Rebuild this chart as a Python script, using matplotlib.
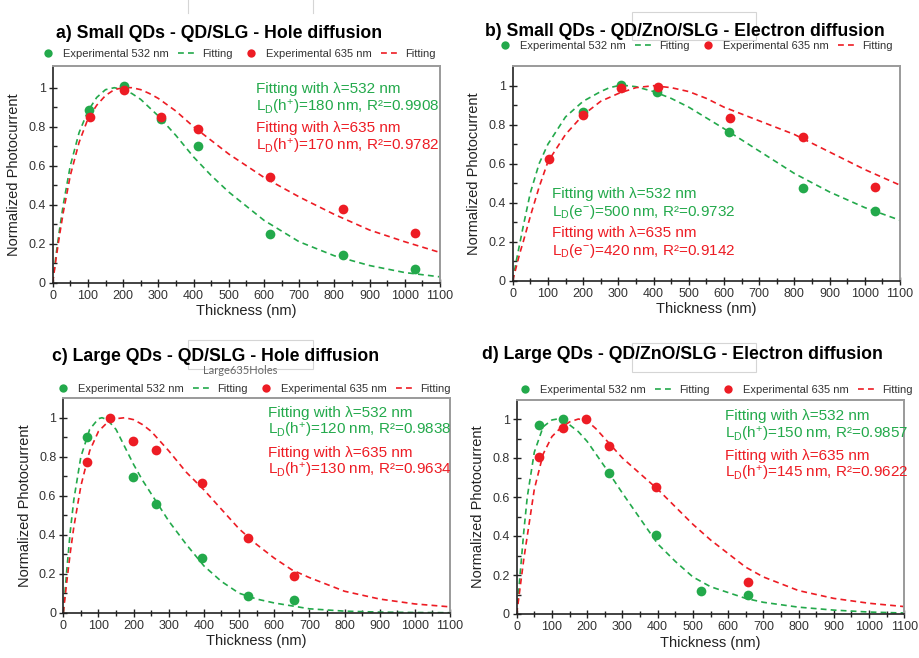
import matplotlib
matplotlib.use("Agg")
import matplotlib.pyplot as plt
from matplotlib.ticker import MultipleLocator
from matplotlib.patches import Rectangle
from matplotlib.lines import Line2D

plt.rcParams['font.family'] = ['Liberation Sans', 'DejaVu Sans']
plt.rcParams['mathtext.fontset'] = 'custom'
plt.rcParams['mathtext.rm'] = 'Liberation Sans'
plt.rcParams['mathtext.it'] = 'Liberation Sans:italic'
plt.rcParams['mathtext.bf'] = 'Liberation Sans:bold'

GREEN = '#23a94b'
RED = '#ed1c24'
TXT = '#333333'

W, H = 919, 658

# ---- panel a: small QDs, QD/SLG, holes
a_x532 = [103, 203, 309, 413, 617, 824, 1030]
a_y532 = [0.885, 1.01, 0.838, 0.70, 0.25, 0.144, 0.068]
a_x635 = [105, 203, 309, 413, 617, 824, 1030]
a_y635 = [0.851, 0.988, 0.850, 0.788, 0.544, 0.378, 0.253]
a_fx532 = [0, 10, 20, 30, 50, 75, 100, 125, 150, 175, 200, 225, 250, 300, 350, 400, 450, 500, 600, 700, 800, 900, 1000, 1100]
a_fy532 = [0, 0.15, 0.28, 0.40, 0.60, 0.77, 0.88, 0.95, 0.99, 1.0, 0.99, 0.97, 0.94, 0.855, 0.755, 0.645, 0.55, 0.465, 0.32, 0.21, 0.138, 0.088, 0.052, 0.03]
a_fx635 = [0, 10, 20, 30, 50, 75, 100, 125, 150, 175, 200, 225, 250, 275, 300, 350, 400, 450, 500, 600, 700, 800, 900, 1000, 1100]
a_fy635 = [0, 0.13, 0.25, 0.36, 0.55, 0.72, 0.84, 0.91, 0.96, 0.99, 1.0, 1.0, 0.99, 0.97, 0.945, 0.88, 0.80, 0.73, 0.66, 0.54, 0.44, 0.35, 0.27, 0.21, 0.155]

# ---- panel b: small QDs, QD/ZnO/SLG, electrons
b_x532 = [199, 309, 411, 615, 824, 1030]
b_y532 = [0.867, 1.003, 0.969, 0.764, 0.477, 0.359]
b_x635 = [103, 201, 309, 413, 617, 824, 1030]
b_y635 = [0.622, 0.850, 0.986, 0.991, 0.832, 0.738, 0.479]
b_fx532 = [0, 10, 20, 30, 50, 75, 100, 150, 200, 250, 275, 300, 325, 350, 400, 450, 500, 600, 700, 800, 900, 1000, 1100]
b_fy532 = [0, 0.10, 0.19, 0.28, 0.45, 0.60, 0.70, 0.84, 0.92, 0.97, 0.99, 1.0, 1.0, 0.995, 0.97, 0.935, 0.89, 0.78, 0.665, 0.55, 0.455, 0.375, 0.31]
b_fx635 = [0, 10, 20, 30, 50, 75, 100, 150, 200, 250, 300, 350, 400, 450, 500, 550, 600, 700, 800, 900, 1000, 1100]
b_fy635 = [0, 0.07, 0.14, 0.20, 0.33, 0.48, 0.61, 0.75, 0.85, 0.92, 0.96, 0.99, 1.0, 0.99, 0.97, 0.935, 0.89, 0.82, 0.75, 0.66, 0.57, 0.49]

# ---- panel c: large QDs, QD/SLG, holes
c_x532 = [66, 197, 264, 395, 524, 656]
c_y532 = [0.901, 0.694, 0.558, 0.281, 0.085, 0.063]
c_x635 = [66, 133, 198, 264, 395, 524, 656]
c_y635 = [0.774, 1.0, 0.881, 0.833, 0.665, 0.383, 0.190]
c_fx532 = [0, 10, 20, 30, 50, 75, 100, 110, 125, 150, 175, 200, 225, 250, 300, 350, 400, 450, 500, 550, 600, 700, 800, 900, 1000, 1100]
c_fy532 = [0, 0.22, 0.42, 0.58, 0.80, 0.94, 0.995, 1.0, 0.99, 0.94, 0.85, 0.76, 0.68, 0.61, 0.47, 0.35, 0.24, 0.16, 0.10, 0.07, 0.05, 0.02, 0.008, 0.003, 0.001, 0.0]
c_fx635 = [0, 10, 20, 30, 50, 75, 100, 125, 150, 175, 200, 225, 250, 300, 350, 400, 450, 500, 550, 600, 650, 700, 800, 900, 1000, 1100]
c_fy635 = [0, 0.16, 0.31, 0.44, 0.65, 0.83, 0.93, 0.975, 0.995, 1.0, 0.99, 0.965, 0.93, 0.83, 0.72, 0.63, 0.53, 0.43, 0.35, 0.28, 0.22, 0.18, 0.11, 0.07, 0.045, 0.03]

# ---- panel d: large QDs, QD/ZnO/SLG, electrons
d_x532 = [63, 131, 262, 394, 524, 656]
d_y532 = [0.969, 1.0, 0.725, 0.405, 0.12, 0.097]
d_x635 = [64, 131, 196, 262, 394, 656]
d_y635 = [0.807, 0.952, 1.0, 0.862, 0.650, 0.166]
d_fx532 = [0, 10, 20, 30, 50, 75, 100, 115, 125, 150, 175, 200, 225, 250, 300, 350, 400, 450, 500, 550, 600, 650, 700, 800, 900, 1000, 1100]
d_fy532 = [0, 0.21, 0.42, 0.60, 0.83, 0.96, 0.995, 1.0, 0.995, 0.97, 0.935, 0.885, 0.82, 0.755, 0.62, 0.49, 0.36, 0.27, 0.19, 0.14, 0.11, 0.08, 0.06, 0.035, 0.02, 0.01, 0.005]
d_fx635 = [0, 10, 20, 30, 50, 75, 100, 125, 150, 175, 200, 225, 250, 275, 300, 350, 400, 450, 500, 550, 600, 650, 700, 800, 900, 1000, 1100]
d_fy635 = [0, 0.14, 0.28, 0.40, 0.64, 0.82, 0.91, 0.955, 0.985, 1.0, 0.99, 0.95, 0.90, 0.85, 0.80, 0.72, 0.64, 0.55, 0.46, 0.38, 0.31, 0.24, 0.19, 0.12, 0.08, 0.055, 0.038]

titles = ["a) Small QDs - QD/SLG - Hole diffusion",
          "b) Small QDs - QD/ZnO/SLG - Electron diffusion",
          "c) Large QDs - QD/SLG - Hole diffusion",
          "d) Large QDs - QD/ZnO/SLG - Electron diffusion"]

notes = [
    ["Fitting with λ=532 nm", r"L$_\mathregular{D}$(h$^\mathregular{+}$)=180 nm, R²=0.9908",
     "Fitting with λ=635 nm", r"L$_\mathregular{D}$(h$^\mathregular{+}$)=170 nm, R²=0.9782"],
    ["Fitting with λ=532 nm", r"L$_\mathregular{D}$(e$^\mathregular{-}$)=500 nm, R²=0.9732",
     "Fitting with λ=635 nm", r"L$_\mathregular{D}$(e$^\mathregular{-}$)=420 nm, R²=0.9142"],
    ["Fitting with λ=532 nm", r"L$_\mathregular{D}$(h$^\mathregular{+}$)=120 nm, R²=0.9838",
     "Fitting with λ=635 nm", r"L$_\mathregular{D}$(h$^\mathregular{+}$)=130 nm, R²=0.9634"],
    ["Fitting with λ=532 nm", r"L$_\mathregular{D}$(h$^\mathregular{+}$)=150 nm, R²=0.9857",
     "Fitting with λ=635 nm", r"L$_\mathregular{D}$(h$^\mathregular{+}$)=145 nm, R²=0.9622"],
]

panels = [
    (a_x532, a_y532, a_x635, a_y635, a_fx532, a_fy532, a_fx635, a_fy635),
    (b_x532, b_y532, b_x635, b_y635, b_fx532, b_fy532, b_fx635, b_fy635),
    (c_x532, c_y532, c_x635, c_y635, c_fx532, c_fy532, c_fx635, c_fy635),
    (d_x532, d_y532, d_x635, d_y635, d_fx532, d_fy532, d_fx635, d_fy635),
]

# pixel layout: left, right, y of zero line, top of frame
boxes = [(52.7, 440, 282.7, 66), (512.7, 900, 280.7, 66),
         (63.3, 450, 612.7, 398.3), (516.7, 904.3, 614, 400)]
title_pos = [(219, 37.5), (685, 36.5), (216, 361), (682, 359)]
legend_pos = [(237, 54.3), (694.5, 45.7), (252.5, 389), (714, 389.7)]
note_pos = [(256, [89, 107, 128, 146]), (551.7, [194, 212, 233, 251]),
            (268, [412.7, 430, 452.7, 470]), (725, [416, 434.3, 456, 473.3])]


def fx(px):
    return px / W


def fy(py):
    return 1 - py / H


fig = plt.figure(figsize=(W / 100, H / 100), dpi=100)

for i, p in enumerate(panels):
    l, r, b0, t = boxes[i]
    ax = fig.add_axes([fx(l), fy(b0), (r - l) / W, (b0 - t) / H])
    ylim_top = (b0 - t) / 195.0
    x532, y532, x635, y635, fx532, fy532, fx635, fy635 = p

    ax.plot(fx532, fy532, color=GREEN, lw=1.2, dashes=(3.5, 2.5), zorder=2)
    ax.plot(fx635, fy635, color=RED, lw=1.2, dashes=(3.5, 2.5), zorder=2)
    ax.plot(x532, y532, 'o', color=GREEN, ms=7, mec='none', zorder=3)
    ax.plot(x635, y635, 'o', color=RED, ms=7, mec='none', zorder=4)

    ax.set_xlim(0, 1100)
    ax.set_ylim(0, ylim_top)
    ax.set_xticks(range(0, 1101, 100))
    ax.xaxis.set_minor_locator(MultipleLocator(50))
    ax.set_yticks([0, 0.2, 0.4, 0.6, 0.8, 1.0])
    ax.set_yticklabels(['0', '0.2', '0.4', '0.6', '0.8', '1'])
    ax.yaxis.set_minor_locator(plt.FixedLocator([0.1, 0.3, 0.5, 0.7, 0.9]))
    ax.tick_params(which='major', direction='inout', length=6, width=1,
                   labelsize=9, labelcolor=TXT, color='#222222', pad=2)
    ax.tick_params(which='minor', direction='in', length=3, width=1, color='#222222')
    ax.tick_params(axis='x', which='minor', direction='inout', length=4)

    for s in ['left', 'bottom']:
        ax.spines[s].set_color('#222222')
        ax.spines[s].set_linewidth(1.2)
    for s in ['top', 'right']:
        ax.spines[s].set_color('#9a9a9a')
        ax.spines[s].set_linewidth(1.4)

    ax.set_xlabel("Thickness (nm)", fontsize=10.5, color='#222222', labelpad=2)
    ax.set_ylabel("Normalized Photocurrent", fontsize=10.5, color='#222222', labelpad=5)

    # title
    tx, ty = title_pos[i]
    fig.text(fx(tx), fy(ty), titles[i], ha='center', va='baseline',
             fontsize=12.7, fontweight='bold', color='black')

    # legend
    handles = [Line2D([], [], ls='none', marker='o', color=GREEN, ms=6, mec='none'),
               Line2D([], [], color=GREEN, lw=1.2, dashes=(3.5, 2.5)),
               Line2D([], [], ls='none', marker='o', color=RED, ms=6, mec='none'),
               Line2D([], [], color=RED, lw=1.2, dashes=(3.5, 2.5))]
    labels = ["Experimental 532 nm", "Fitting", "Experimental 635 nm", "Fitting"]
    lx, ly = legend_pos[i]
    leg = fig.legend(handles, labels, loc='center', bbox_to_anchor=(fx(lx), fy(ly)),
                     ncol=4, frameon=False, fontsize=8, handlelength=1.7,
                     handletextpad=0.5, columnspacing=0.8, borderpad=0, borderaxespad=0)
    for txt in leg.get_texts():
        txt.set_color(TXT)

    # fitting notes
    nx, nys = note_pos[i]
    for k in range(4):
        fig.text(fx(nx), fy(nys[k]), notes[i][k], ha='left', va='center',
                 fontsize=11, color=GREEN if k < 2 else RED)

# faint grey frames left in the source picture
fig.add_artist(Line2D([fx(188.3), fx(188.3)], [fy(0), fy(13)], color='#d5d5d5', lw=0.8))
fig.add_artist(Line2D([fx(313), fx(313)], [fy(0), fy(13)], color='#d5d5d5', lw=0.8))
for (x0, y0, x1, y1) in [(632, 12, 756, 40), (188, 340, 313, 369), (632.3, 343.3, 755.7, 372.3)]:
    fig.add_artist(Rectangle((fx(x0), fy(y1)), (x1 - x0) / W, (y1 - y0) / H,
                             transform=fig.transFigure, fill=False,
                             edgecolor='#d5d5d5', lw=0.8))
fig.text(fx(240), fy(370), "Large635Holes", ha='center', va='center',
         fontsize=8, color='#666666', family='Lato')

fig.savefig("out.png", dpi=100)
